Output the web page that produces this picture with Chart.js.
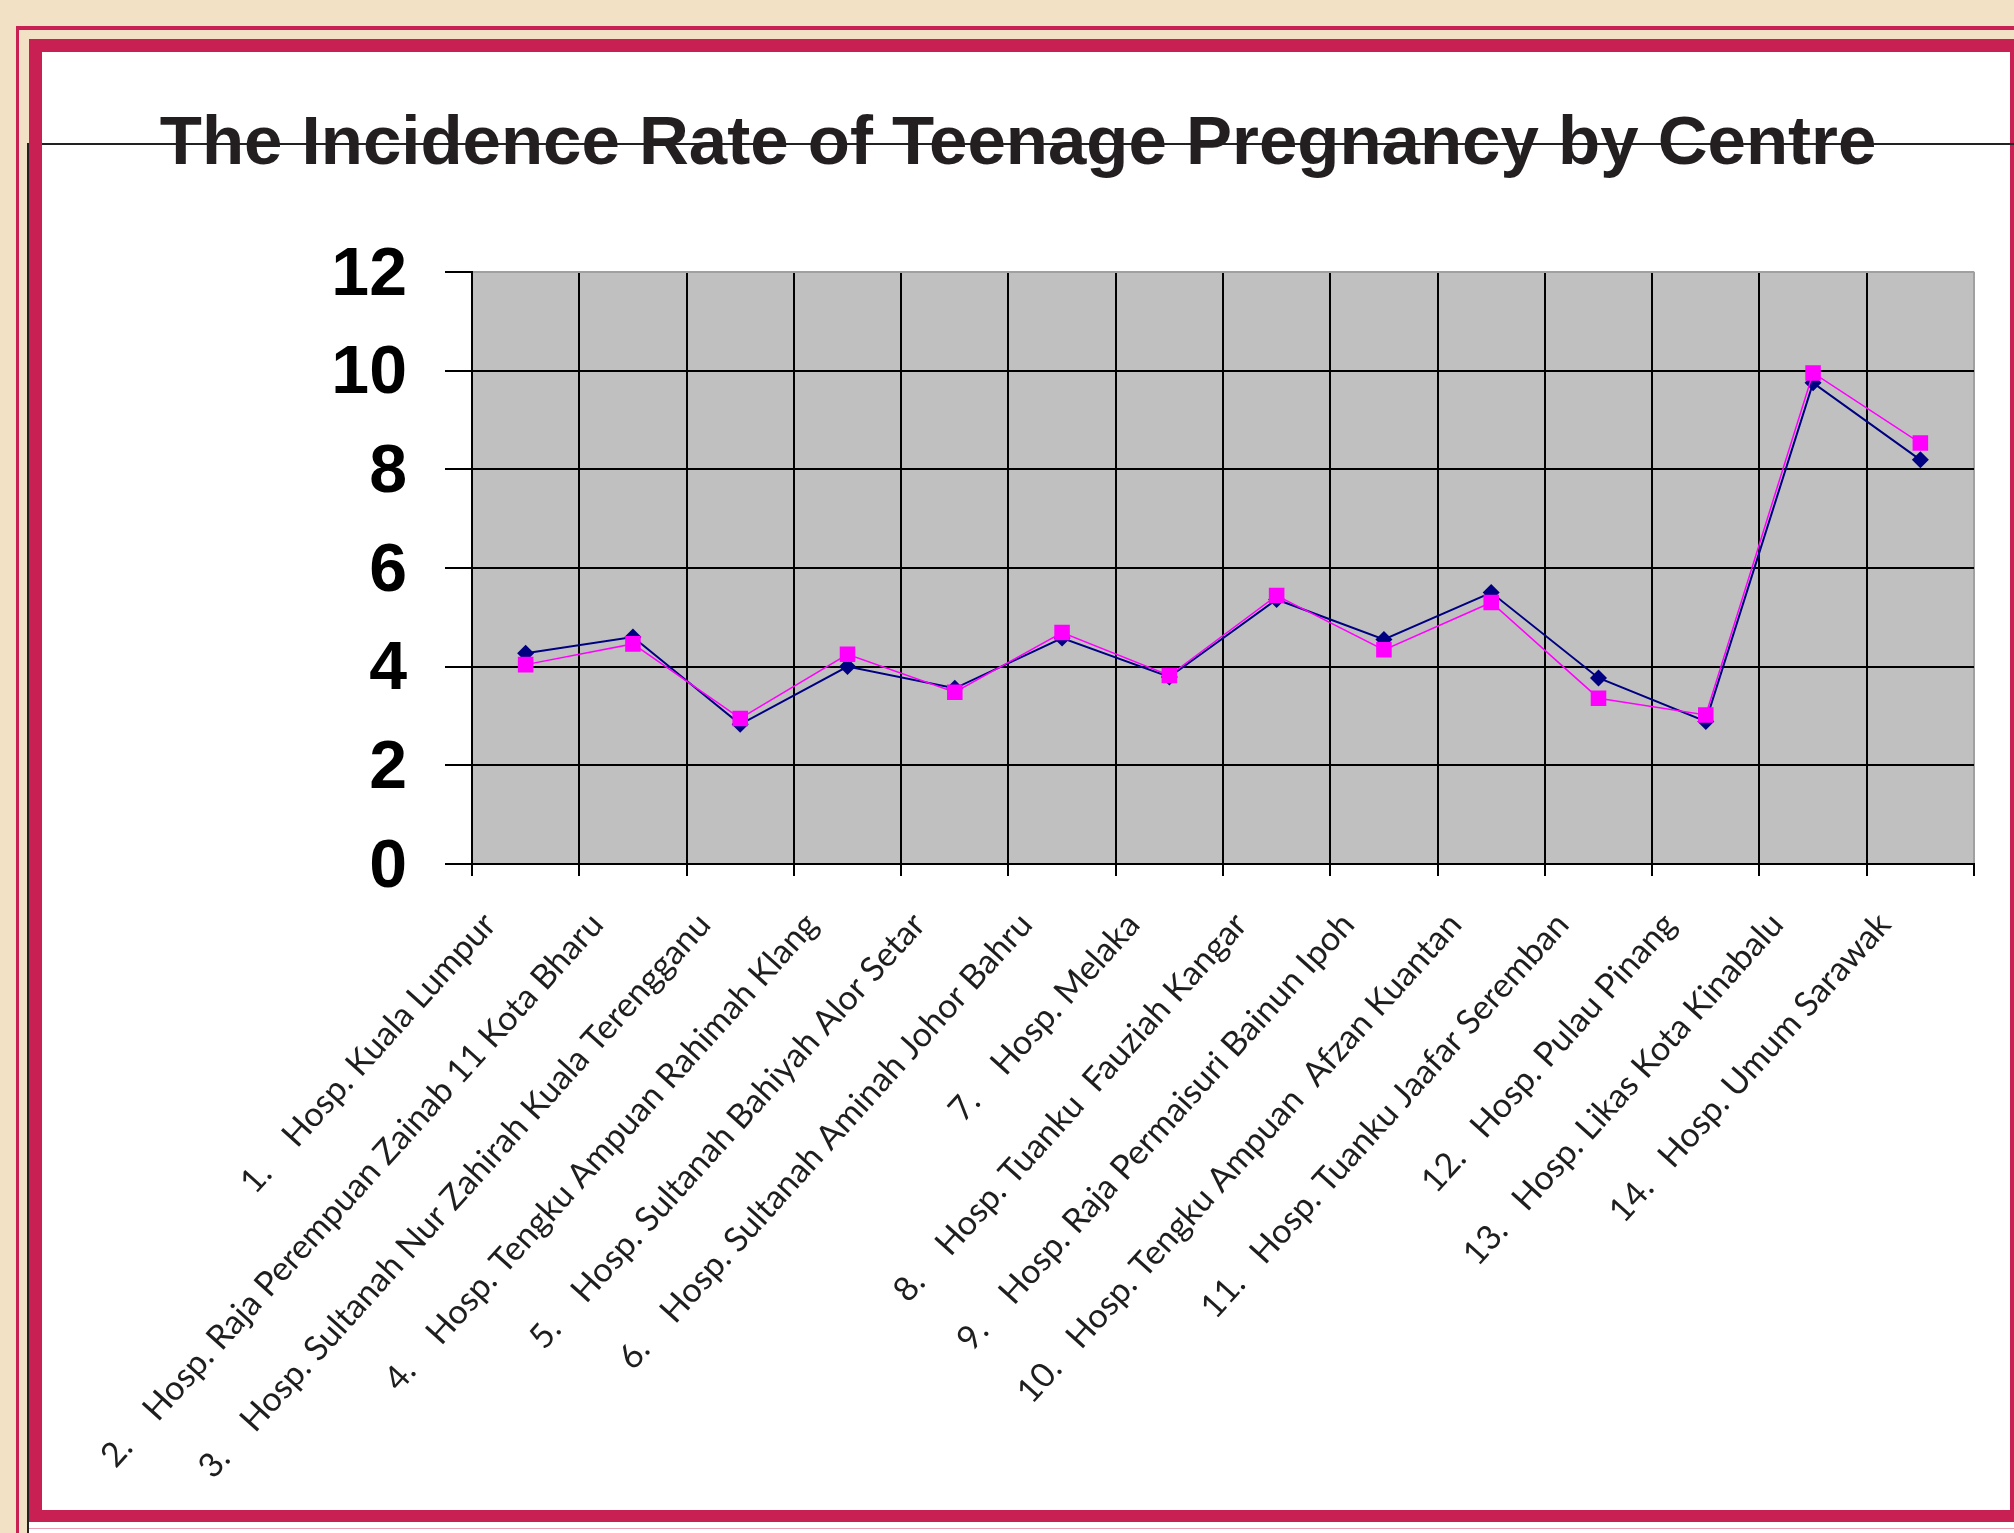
<!DOCTYPE html>
<html>
<head>
<meta charset="utf-8">
<title>The Incidence Rate of Teenage Pregnancy by Centre</title>
<script src="https://cdn.jsdelivr.net/npm/chart.js@4.4.0/dist/chart.umd.min.js"></script>
<style>
  body { margin: 0; background: #f3e1c5; }
  #chart { display: block; }
</style>
</head>
<body>
<canvas id="chart" width="2014" height="1533"></canvas>
<script>
// hospital names as printed under the x axis (gap after the number is a tab in the original)
const centres = [
  '1.    Hosp. Kuala Lumpur',
  '2.    Hosp. Raja Perempuan Zainab 11 Kota Bharu',
  '3.    Hosp. Sultanah Nur Zahirah Kuala Terengganu',
  '4.    Hosp. Tengku Ampuan Rahimah Klang',
  '5.    Hosp. Sultanah Bahiyah Alor Setar',
  '6.    Hosp. Sultanah Aminah Johor Bahru',
  '7.    Hosp. Melaka',
  '8.    Hosp. Tuanku  Fauziah Kangar',
  '9.    Hosp. Raja Permaisuri Bainun Ipoh',
  '10.   Hosp. Tengku Ampuan  Afzan Kuantan',
  '11.   Hosp. Tuanku Jaafar Seremban',
  '12.   Hosp. Pulau Pinang',
  '13.   Hosp. Likas Kota Kinabalu',
  '14.   Hosp. Umum Sarawak'
];

// navy line (diamond markers)
const navySeries = [4.27, 4.6, 2.83, 4.0, 3.56, 4.58, 3.79, 5.36, 4.55, 5.5, 3.77, 2.89, 9.75, 8.19];
// magenta line (square markers)
const pinkSeries = [4.04, 4.46, 2.95, 4.25, 3.48, 4.69, 3.82, 5.44, 4.34, 5.3, 3.36, 3.02, 9.95, 8.53];

const yTicks = [0, 2, 4, 6, 8, 10, 12];

const crimson = '#c82052';

// page frame, the rule through the title and the grey plot area
const framePlugin = {
  id: 'frame',
  beforeDraw(chart) {
    const ctx = chart.ctx;
    const w = chart.width;
    const h = chart.height;
    ctx.save();
    ctx.fillStyle = '#f3e1c5';
    ctx.fillRect(0, 0, w, h);

    ctx.fillStyle = crimson;
    ctx.fillRect(16, 26, w - 16, 4);
    ctx.fillRect(16, 26, 3, h - 26);

    ctx.fillStyle = '#ffffff';
    ctx.fillRect(28, 1522, w - 28, h - 1522);
    ctx.fillStyle = '#e8a0b4';
    ctx.fillRect(28, 1528, w - 28, 1);

    ctx.fillStyle = crimson;
    ctx.fillRect(29, 39, w - 29, 1522 - 39);
    ctx.fillStyle = '#ffffff';
    ctx.fillRect(42, 52, 2010 - 42, 1510 - 52);

    ctx.fillStyle = '#222222';
    ctx.fillRect(42, 143, w - 42, 2);
    ctx.fillRect(27, 143, 2, h - 143);

    const a = chart.chartArea;
    ctx.fillStyle = '#c0c0c0';
    ctx.fillRect(a.left, a.top, a.right - a.left, a.bottom - a.top);
    ctx.restore();
  }
};

new Chart(document.getElementById('chart'), {
  type: 'line',
  data: {
    labels: centres,
    datasets: [
      {
        label: 'Series 2',
        data: pinkSeries,
        borderColor: '#ff00ff',
        backgroundColor: '#ff00ff',
        borderWidth: 1.5,
        pointStyle: 'rect',
        pointRadius: 11,
        pointBorderWidth: 0,
        tension: 0
      },
      {
        label: 'Series 1',
        data: navySeries,
        borderColor: '#000080',
        backgroundColor: '#000080',
        borderWidth: 2,
        pointStyle: 'rectRot',
        pointRadius: 8.5,
        pointBorderWidth: 0,
        tension: 0
      }
    ]
  },
  options: {
    responsive: false,
    devicePixelRatio: 1,
    animation: false,
    layout: { padding: { left: 62, right: 40, top: 0, bottom: 0 } },
    plugins: {
      legend: { display: false },
      tooltip: { enabled: false },
      title: {
        display: true,
        text: 'The Incidence Rate of Teenage Pregnancy by Centre',
        color: '#231f20',
        font: { family: "'Liberation Sans', Arial, sans-serif", size: 69, weight: 'bold' },
        padding: { top: 104, bottom: 85 }
      }
    },
    scales: {
      x: {
        offset: true,
        grid: {
          offset: true,
          color: c => (c.index === undefined ? '#a0a0a0' : '#000000'),
          lineWidth: 2,
          tickLength: 12,
          tickColor: '#000000'
        },
        border: { color: '#000000', width: 2 },
        ticks: {
          autoSkip: false,
          minRotation: 48,
          maxRotation: 48,
          padding: 29,
          labelOffset: -36,
          color: '#1e1e1e',
          font: { family: 'Lato, sans-serif', size: 34 }
        },
        afterFit: s => { s.height = 669; }
      },
      y: {
        min: 0,
        max: 12,
        afterBuildTicks: s => { s.ticks = yTicks.map(v => ({ value: v })); },
        grid: {
          color: c => (c.tick && c.tick.value === 12 ? '#a0a0a0' : '#000000'),
          lineWidth: 2,
          tickLength: 27,
          tickColor: '#000000'
        },
        border: { color: '#000000', width: 2 },
        ticks: {
          padding: 38,
          labelOffset: 4,
          color: '#000000',
          font: { family: "'Liberation Sans Narrow', 'Liberation Sans', sans-serif", size: 68, weight: 'bold' }
        },
        afterFit: s => { s.width = 410; }
      }
    }
  },
  plugins: [framePlugin]
});
</script>
</body>
</html>
